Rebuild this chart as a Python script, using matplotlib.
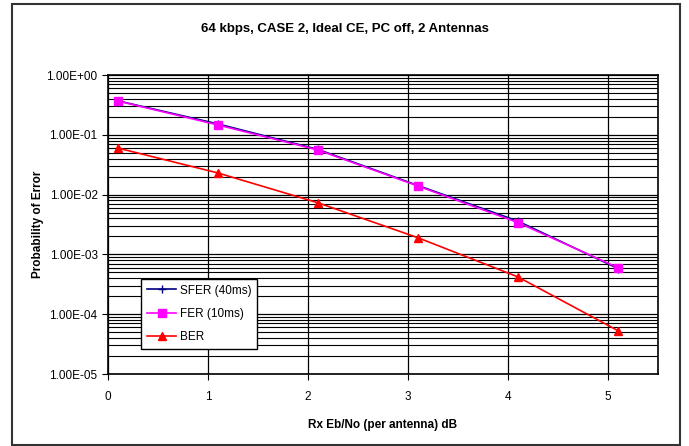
import numpy as np
import matplotlib.pyplot as plt
from matplotlib.ticker import LogLocator, FuncFormatter
from matplotlib.patches import Rectangle

plt.rcParams['font.family'] = ['Liberation Sans', 'DejaVu Sans']

eb_no = [0.1, 1.1, 2.1, 3.1, 4.1, 5.1]
sfer = [0.37, 0.152, 0.057, 0.0142, 0.0036, 0.00058]
fer = [0.367, 0.146, 0.0557, 0.0139, 0.0034, 0.0006]
ber = [0.060, 0.023, 0.0073, 0.0019, 0.00042, 0.000053]

title = "64 kbps, CASE 2, Ideal CE, PC off, 2 Antennas"

fig = plt.figure(figsize=(6.89, 4.46), dpi=100)
ax = fig.add_axes([0.1567, 0.1614, 0.7983, 0.6704])

# outer chart border
fig.patches.append(Rectangle((12 / 689, 1 / 446), 668 / 689, 441 / 446,
                             transform=fig.transFigure, fill=False,
                             edgecolor='#333333', linewidth=1.5))

ax.plot(eb_no, sfer, '-', color='#000080', marker='+', markersize=6,
        linewidth=1.2, label='SFER (40ms)', zorder=3)
ax.plot(eb_no, fer, '-', color='#ff00ff', marker='s', markersize=6,
        linewidth=1.2, label='FER (10ms)', zorder=4)
ax.plot(eb_no, ber, '-', color='#ff0000', marker='^', markersize=6,
        linewidth=1.2, label='BER', zorder=4)

ax.set_yscale('log')
ax.set_ylim(1e-5, 1)
ax.set_xlim(0, 5.5)
ax.set_xticks([0, 1, 2, 3, 4, 5])
ax.yaxis.set_major_locator(LogLocator(base=10, numticks=10))
ax.yaxis.set_minor_locator(LogLocator(base=10, subs=np.arange(2, 10), numticks=10))
ax.yaxis.set_major_formatter(FuncFormatter(lambda v, p: "%.2E" % v))
ax.yaxis.set_minor_formatter(FuncFormatter(lambda v, p: ""))

ax.grid(True, which='major', axis='both', color='black', linewidth=0.9)
ax.grid(True, which='minor', axis='y', color='black', linewidth=0.8)
ax.set_axisbelow(True)
for s in ax.spines.values():
    s.set_linewidth(1.2)
    s.set_color('black')

ax.tick_params(axis='both', which='major', labelsize=8.5, length=4, direction='out')
ax.tick_params(axis='y', which='minor', length=0)
ax.tick_params(axis='x', pad=8)

ax.set_xlabel("Rx Eb/No (per antenna) dB", fontsize=8.5, fontweight='bold', labelpad=12)
ax.set_ylabel("Probability of Error", fontsize=8.5, fontweight='bold', labelpad=2)
fig.text(0.5, 0.935, title, ha='center', va='center', fontsize=9.5, fontweight='bold')

leg = ax.legend(loc='lower left', bbox_to_anchor=(0.06, 0.084), fontsize=8.5,
                frameon=True, fancybox=False, edgecolor='black', framealpha=1,
                borderpad=0.5, labelspacing=0.95, handlelength=2.5,
                handletextpad=0.3, borderaxespad=0)
leg.get_frame().set_linewidth(1.0)

fig.savefig('out.png', dpi=100)
